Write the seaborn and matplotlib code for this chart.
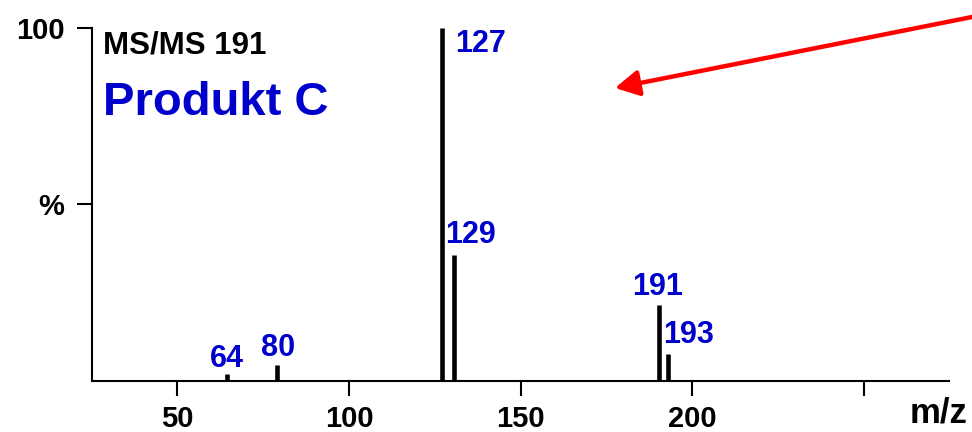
import matplotlib
matplotlib.use("Agg")
import matplotlib.pyplot as plt
import seaborn as sns
import pandas as pd

# peaks (m/z position, relative intensity %)
mz = [64.6, 79.0, 127.0, 130.7, 190.2, 193.0]
intensity = [1.9, 4.5, 100.0, 35.6, 21.5, 7.6]
peak_labels = ["64", "80", "127", "129", "191", "193"]

x_ticks = [50, 100, 150, 200, 250]
x_tick_labels = ["50", "100", "150", "200", ""]
y_ticks = [50, 100]
y_tick_labels = ["%", "100"]

title_small = "MS/MS 191"
title_big = "Produkt C"
x_label = "m/z"

df = pd.DataFrame({"mz": mz, "intensity": intensity, "label": peak_labels})

sns.set_theme(style="ticks")
plt.rcParams["font.family"] = ["Liberation Sans", "DejaVu Sans"]
plt.rcParams["font.weight"] = "bold"
plt.rcParams["text.color"] = "black"

blue = "#0000cc"

fig = plt.figure(figsize=(9.72, 4.32), dpi=100)
ax = fig.add_axes([0.0947, 0.1188, 0.8816, 0.8164])

ax.vlines(df["mz"], 0, df["intensity"], color="black", linewidth=3.3)

# label offsets in points (dx, dy, ha)
offsets = {
    "64": (0, 5, "center"),
    "80": (1, 6.5, "center"),
    "127": (9.5, -17, "left"),
    "129": (11.5, 8.5, "center"),
    "191": (-0.5, 7.2, "center"),
    "193": (14.4, 8, "center"),
}
for _, row in df.iterrows():
    dx, dy, ha = offsets[row["label"]]
    ax.annotate(row["label"], (row["mz"], row["intensity"]), xytext=(dx, dy),
                textcoords="offset points", ha=ha, va="baseline",
                color=blue, fontsize=22, fontweight="bold", clip_on=False)

ax.set_xlim(25.2, 274.7)
ax.set_ylim(0, 100)
ax.set_xticks(x_ticks)
ax.set_xticklabels(x_tick_labels)
ax.set_yticks(y_ticks)
ax.set_yticklabels(y_tick_labels)
ax.tick_params(axis="both", direction="out", length=11, width=1.5,
               labelsize=21, color="black", labelcolor="black")
ax.tick_params(axis="x", pad=6.5)
ax.tick_params(axis="y", pad=9)
for lab in ax.get_xticklabels() + ax.get_yticklabels():
    lab.set_fontweight("bold")

sns.despine(ax=ax)
for side in ["left", "bottom"]:
    ax.spines[side].set_linewidth(1.5)
    ax.spines[side].set_color("black")

ax.text(28.4, 92.9, title_small, fontsize=22.5, fontweight="bold",
        color="black", va="baseline", ha="left")
ax.text(28.4, 75.3, title_big, fontsize=34, fontweight="bold",
        color=blue, va="baseline", ha="left")

fig.text(967 / 972, 1 - 413 / 432, x_label, fontsize=25, fontweight="bold",
         color="black", ha="right", va="center")

# red arrow pointing at the empty region
ax.annotate("", xy=(615 / 972, 1 - 88 / 432), xycoords="figure fraction",
            xytext=(1.0, 1 - 17 / 432), textcoords="figure fraction",
            arrowprops=dict(arrowstyle="-|>,head_length=1.2,head_width=0.65",
                            color="#ff0000", lw=3.2, shrinkA=0, shrinkB=0))

fig.savefig("out.png", dpi=100)
